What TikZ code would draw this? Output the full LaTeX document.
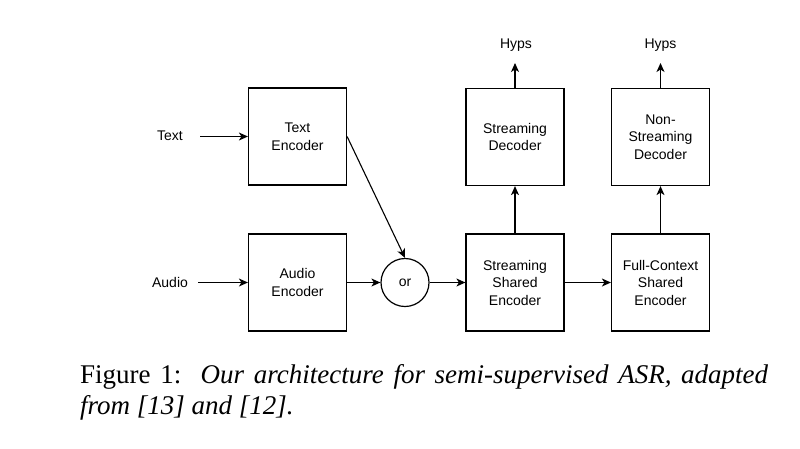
\documentclass[tikz,border=0pt]{standalone}
\usepackage{fontspec}
\setmainfont{Liberation Serif}
\newfontfamily\diafont{Liberation Sans}
\usetikzlibrary{arrows.meta}
\begin{document}
\begin{tikzpicture}[x=1pt,y=-1pt,
  blk/.style={draw=black,line width=1.2pt,minimum width=98pt,minimum height=97pt,inner sep=0pt,align=center,font=\diafont\fontsize{14}{17.5}\selectfont},
  lbl/.style={inner sep=0pt,font=\diafont\fontsize{14}{17.5}\selectfont},
  orc/.style={draw=black,line width=1.2pt,circle,minimum size=48pt,inner sep=0pt,font=\diafont\fontsize{14}{17.5}\selectfont},
  arr/.style={line width=1.1pt,-{Stealth[length=9pt,width=8pt,inset=2.5pt]}}]
\useasboundingbox[fill=white] (0,0) rectangle (800,448);
\node[blk] (te) at (297.5,136.5) {Text\\Encoder};
\node[blk] (ae) at (297.5,282.5) {Audio\\Encoder};
\node[orc] (or) at (405,282.5) {or};
\node[blk] (sd) at (515,137) {Streaming\\Decoder};
\node[blk] (se) at (515,282.5) {Streaming\\Shared\\Encoder};
\node[blk] (nd) at (660.5,137) {Non-\\Streaming\\Decoder};
\node[blk] (fe) at (660.5,282.5) {Full-Context\\Shared\\Encoder};
\node[lbl] (tx) at (170,136) {Text};
\node[lbl] (au) at (170,282) {Audio};
\node[lbl] (h1) at (516,45) {Hyps};
\node[lbl] (h2) at (660.5,45) {Hyps};
\coordinate (txe) at (200,136.5);
\coordinate (aue) at (198,282.5);
\coordinate (h1e) at (515,63);
\coordinate (h2e) at (660.5,63);
\draw[arr] (txe) -- (te.west);
\draw[arr] (aue) -- (ae.west);
\draw[arr] (ae.east) -- (or.west);
\draw[arr] (or.east) -- (se.west);
\draw[arr] (te.east) -- (or.north);
\draw[arr] (se.east) -- (fe.west);
\draw[arr] (se.north) -- (sd.south);
\draw[arr] (fe.north) -- (nd.south);
\draw[arr] (sd.north) -- (h1e);
\draw[arr] (nd.north) -- (h2e);
\node[anchor=north west,inner sep=0pt,text width=688pt,align=justify,font=\fontsize{27}{31}\selectfont] (cap) at (80,364)
  {Figure 1:\ \ \textit{Our architecture for semi-supervised ASR, adapted from [13] and [12].}};
\end{tikzpicture}
\end{document}
